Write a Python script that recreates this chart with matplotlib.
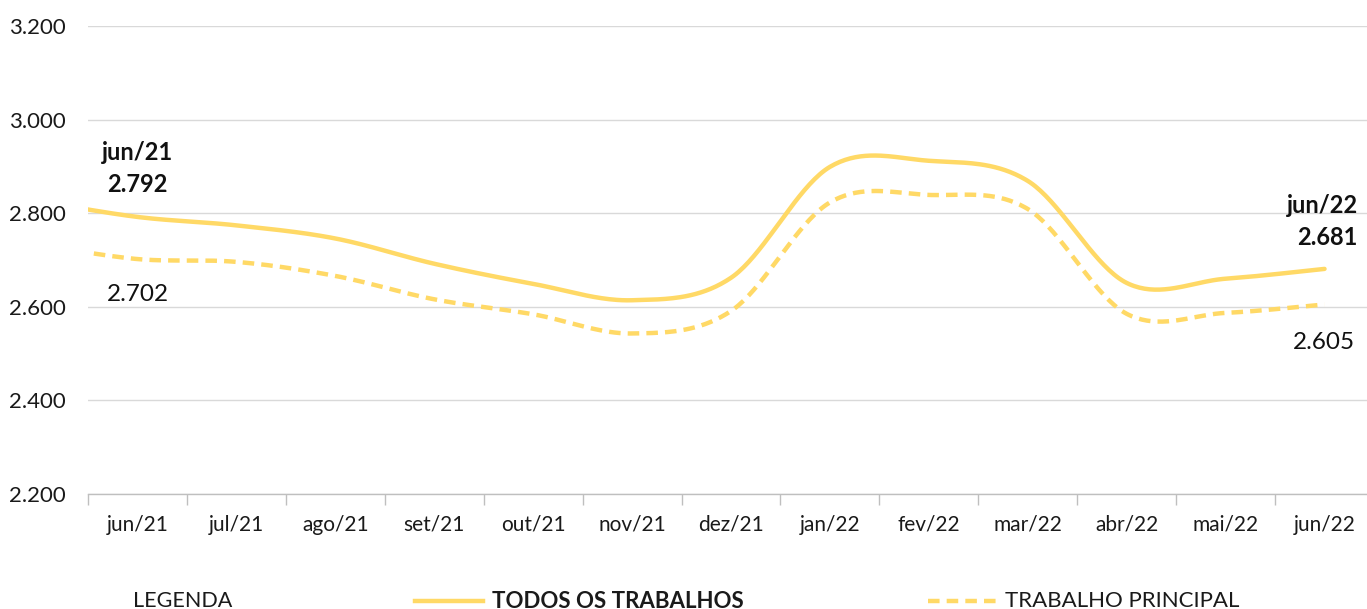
import matplotlib
matplotlib.use("Agg")
import matplotlib.pyplot as plt
from matplotlib.lines import Line2D
import numpy as np

months = ["jun/21", "jul/21", "ago/21", "set/21", "out/21", "nov/21", "dez/21",
          "jan/22", "fev/22", "mar/22", "abr/22", "mai/22", "jun/22"]
todos = [2792, 2774, 2746, 2692, 2649, 2614, 2662, 2899, 2912, 2869, 2651, 2660, 2681]
principal = [2702, 2696, 2666, 2616, 2584, 2543, 2591, 2823, 2839, 2809, 2585, 2587, 2605]
# mai/21 values, only the bit that falls inside the left edge is visible
prev_todos = 2826
prev_principal = 2733

yticks = [2200, 2400, 2600, 2800, 3000, 3200]

gold = "#FFD966"
grid_c = "#D9D9D9"
font = "Lato"


def fmt(v):
    return f"{v:,}".replace(",", ".")


def catmull_rom(xs, ys, n=40):
    # excel style smoothed line, passes through every point
    xs = np.asarray(xs, float)
    ys = np.asarray(ys, float)
    px = np.concatenate([[xs[0]], xs, [xs[-1]]])
    py = np.concatenate([[ys[0]], ys, [ys[-1]]])
    out_x, out_y = [], []
    t = np.linspace(0, 1, n)
    for i in range(1, len(px) - 2):
        for p, out in ((px, out_x), (py, out_y)):
            p0, p1, p2, p3 = p[i - 1], p[i], p[i + 1], p[i + 2]
            m1 = (p2 - p0) / 2
            m2 = (p3 - p1) / 2
            h00 = 2 * t**3 - 3 * t**2 + 1
            h10 = t**3 - 2 * t**2 + t
            h01 = -2 * t**3 + 3 * t**2
            h11 = t**3 - t**2
            out.extend(h00 * p1 + h10 * m1 + h01 * p2 + h11 * m2)
    return np.array(out_x), np.array(out_y)


plt.rcParams["font.family"] = [font, "DejaVu Sans"]

fig = plt.figure(figsize=(13.67, 6.09), dpi=100)
ax = fig.add_axes([88 / 1367, 1 - 494 / 609, (1374 - 88) / 1367, (494 - 26) / 609])

xs = np.arange(-1, len(months))
sx, sy = catmull_rom(xs, [prev_todos] + todos)
ax.plot(sx, sy, color=gold, lw=3.2, solid_capstyle="round", zorder=3)
dx, dy = catmull_rom(xs, [prev_principal] + principal)
ax.plot(dx, dy, color=gold, lw=3.2, ls=(0, (2.6, 1.6)), zorder=3)

ax.set_xlim(-0.5, len(months) - 0.5)
ax.set_ylim(2200, 3200)

ax.set_yticks(yticks, labels=[fmt(v) for v in yticks])
ax.tick_params(axis="y", length=0, pad=16, labelsize=16, labelcolor="#1a1a1a")
ax.yaxis.grid(True, color=grid_c, lw=1)
ax.set_axisbelow(True)

ax.set_xticks(np.arange(-0.5, len(months)), labels=[])
ax.set_xticks(np.arange(len(months)), labels=months, minor=True)
ax.tick_params(axis="x", which="major", length=8, width=1, color="#BFBFBF", direction="out")
ax.tick_params(axis="x", which="minor", length=0, pad=15, labelsize=15, labelcolor="#1a1a1a")

for s in ["top", "left", "right"]:
    ax.spines[s].set_visible(False)
ax.spines["bottom"].set_color("#BFBFBF")
ax.spines["bottom"].set_linewidth(1)

# labels for first and last month
ax.annotate(f"{months[0]}\n{fmt(todos[0])}", (0, todos[0]), xytext=(0, 15),
            textcoords="offset points", ha="center", va="bottom",
            fontsize=17, fontweight="bold", linespacing=1.5, color="#111111")
ax.annotate(fmt(principal[0]), (0, principal[0]), xytext=(0, -18),
            textcoords="offset points", ha="center", va="top",
            fontsize=17.5, color="#111111")
ax.annotate(f"{months[-1]}\n{fmt(todos[-1])}", (len(months) - 1, todos[-1]), xytext=(24, 14),
            textcoords="offset points", ha="right", va="bottom",
            fontsize=17, fontweight="bold", linespacing=1.5, color="#111111",
            multialignment="right")
ax.annotate(fmt(principal[-1]), (len(months) - 1, principal[-1]), xytext=(22, -20),
            textcoords="offset points", ha="right", va="top",
            fontsize=17.5, color="#111111")

# legend row along the bottom
ly = 1 - 601 / 609
fig.text(133 / 1367, ly, "LEGENDA", fontsize=15.5, va="center", ha="left", color="#1a1a1a")
fig.add_artist(Line2D([415 / 1367, 483 / 1367], [ly, ly], color=gold, lw=3.2,
                      transform=fig.transFigure))
fig.text(492 / 1367, ly, "TODOS OS TRABALHOS", fontsize=16, fontweight="bold",
         va="center", ha="left", color="#1a1a1a")
fig.add_artist(Line2D([928 / 1367, 997 / 1367], [ly, ly], color=gold, lw=3.2,
                      ls=(0, (2.6, 1.6)), transform=fig.transFigure))
fig.text(1005 / 1367, ly, "TRABALHO PRINCIPAL", fontsize=16,
         va="center", ha="left", color="#1a1a1a")

fig.savefig("out.png", dpi=100)
